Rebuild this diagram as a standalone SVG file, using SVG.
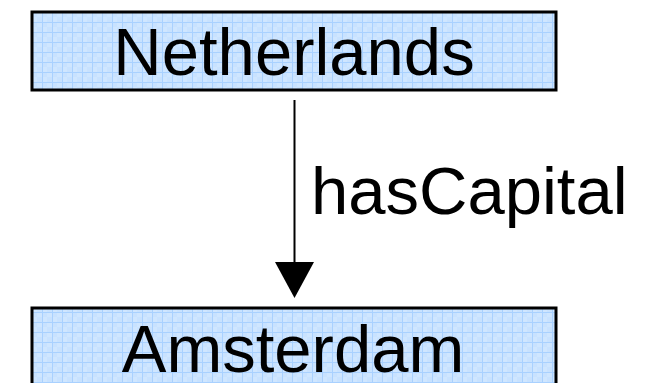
<svg xmlns="http://www.w3.org/2000/svg" width="657" height="383" viewBox="0 0 657 383">
<defs>
<pattern id="grid" x="2" y="2" width="10" height="10" patternUnits="userSpaceOnUse">
<rect width="10" height="10" fill="#cfe6ff"/>
<rect x="0" y="0" width="5" height="5" fill="#c8e2ff"/>
<rect x="5" y="5" width="5" height="5" fill="#c8e2ff"/>
<path d="M0 0.5H10M0.5 0V10" stroke="#a9d1ff" stroke-width="1" fill="none"/>
</pattern>
<marker id="arrow" viewBox="0 0 39 36" refX="19.5" refY="36" markerWidth="39" markerHeight="36" markerUnits="userSpaceOnUse" orient="auto-start-reverse">
<path d="M0 0L39 0L19.5 36Z" fill="#000"/>
</marker>
<style>
.node{fill:url(#grid);stroke:#000;stroke-width:3}
.label{font-family:"Liberation Sans",Arial,sans-serif;font-size:67px;fill:#000}
</style>
</defs>
<g id="netherlands">
<rect class="node" x="32" y="12" width="524" height="78"/>
<text class="label" x="294" y="75" text-anchor="middle">Netherlands</text>
</g>
<g id="amsterdam">
<rect class="node" x="32" y="308" width="524" height="90"/>
<text class="label" x="293" y="372" text-anchor="middle">Amsterdam</text>
</g>
<g id="connectors">
<line x1="294.5" y1="100" x2="294.5" y2="262" stroke="#000" stroke-width="2"/>
<path d="M275 262L314 262L294.5 298Z" fill="#000"/>
<text class="label" x="311" y="214">hasCapital</text>
</g>
</svg>
